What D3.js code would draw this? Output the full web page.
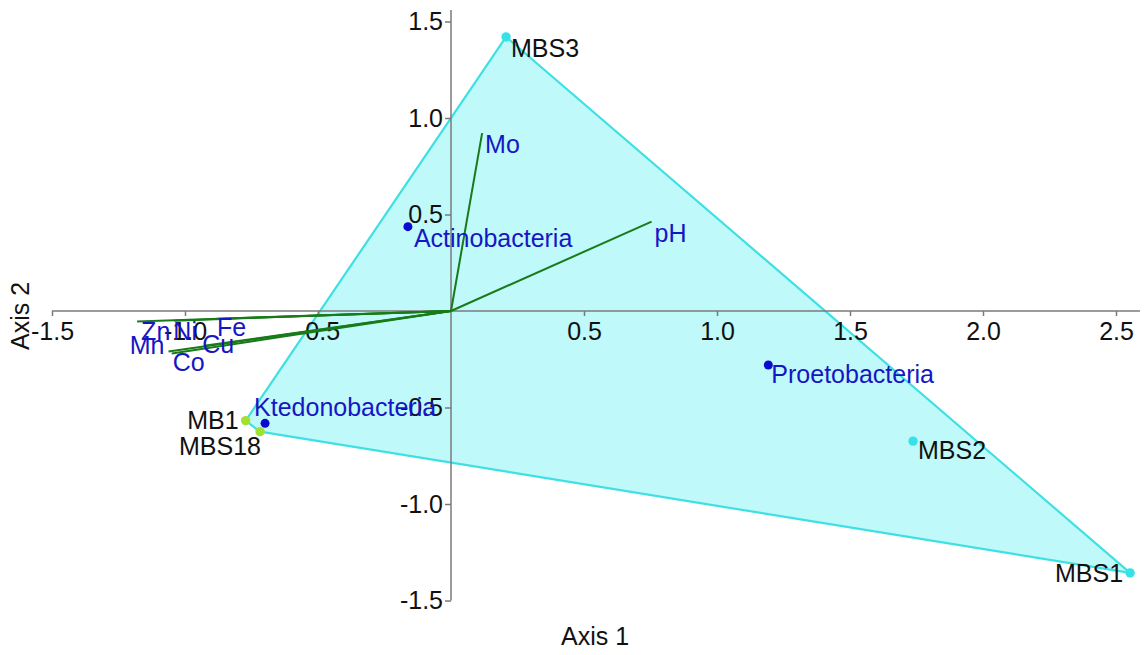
<!DOCTYPE html>
<html>
<head>
<meta charset="utf-8">
<script src="https://cdn.jsdelivr.net/npm/d3@7"></script>
<style>
  html, body { margin: 0; padding: 0; background: #ffffff; }
  svg { display: block; font-family: "Liberation Sans", Arial, sans-serif; }
</style>
</head>
<body>
<svg id="chart" width="1145" height="655"></svg>
<script>
// Sample scores (Axis 1, Axis 2)
const sampleNames = ["MBS3", "MBS2", "MBS1", "MB1", "MBS18"];
const sampleX = [0.207, 1.737, 2.553, -0.772, -0.718];
const sampleY = [1.420, -0.674, -1.357, -0.568, -0.625];
const sampleGroup = ["MBS", "MBS", "MBS", "MB", "MB"];

// Taxa scores
const taxaNames = ["Actinobacteria", "Proetobacteria", "Ktedonobacteria"];
const taxaX = [-0.162, 1.193, -0.699];
const taxaY = [0.437, -0.280, -0.582];

// Environmental vectors (biplot arrows from origin)
const envNames = ["Mo", "pH", "Zn", "Ni", "Fe", "Mn", "Co", "Cu"];
const envX = [0.117, 0.754, -1.180, -1.040, -0.880, -1.062, -1.050, -0.928];
const envY = [0.922, 0.463, -0.055, -0.050, -0.040, -0.210, -0.220, -0.180];

// Axis ticks
const xTicks = [-1.5, -1.0, -0.5, 0.5, 1.0, 1.5, 2.0, 2.5];
const yTicks = [-1.5, -1.0, -0.5, 0.5, 1.0, 1.5];

const svg = d3.select("#chart");
const FONT = 25;

const x = d3.scaleLinear().domain([-1.5, 2.5]).range([52, 1116]);
const y = d3.scaleLinear().domain([-1.5, 1.5]).range([600.5, 21.5]);

const groupColor = { MBS: "#36e2e8", MB: "#a2e22e" };
const hullFill = "#bff9f9";
const hullStroke = "#3fe0e3";
const taxaColor = "#0b0bd0";
const taxaText = "#1616c4";
const envColor = "#197a19";
const axisColor = "#7a7a7a";

// Convex hull around all sample points
const pts = sampleNames.map((_, i) => [x(sampleX[i]), y(sampleY[i])]);
const hull = d3.polygonHull(pts);
svg.append("path")
  .attr("d", "M" + hull.join("L") + "Z")
  .attr("fill", hullFill)
  .attr("stroke", hullStroke)
  .attr("stroke-width", 2.2)
  .attr("stroke-linejoin", "round");

// Axes through the origin
const xAxis = d3.axisBottom(x).tickValues(xTicks).tickFormat(d3.format(".1f"))
  .tickSize(5).tickPadding(6).tickSizeOuter(0);
const yAxis = d3.axisLeft(y).tickValues(yTicks).tickFormat(d3.format(".1f"))
  .tickSize(6).tickPadding(2).tickSizeOuter(0);

const gx = svg.append("g").attr("transform", `translate(0,${y(0)})`).call(xAxis);
const gy = svg.append("g").attr("transform", `translate(${x(0)},0)`).call(yAxis);

// extend axis lines across the plotting area
gx.select(".domain").attr("d", `M${x(-1.5)},0H${x(2.59)}`);
gy.select(".domain").attr("d", `M0,${y(-1.5)}V${y(1.56)}`);

[gx, gy].forEach(g => {
  g.selectAll(".domain, .tick line").attr("stroke", axisColor).attr("stroke-width", 1.5);
  g.selectAll(".tick text").attr("fill", "#111").attr("font-size", FONT)
    .attr("font-family", '"Liberation Sans", Arial, sans-serif')
    .text(d => d3.format(".1f")(d).replace("−", "-"));
});

// Environmental vectors
const envLabelOffset = {
  Mo: [3, 20, "start"], pH: [3, 20, "start"], Zn: [4, 18, "start"],
  Ni: [-1, 19, "start"], Fe: [0, 17, "start"], Mn: [-4, 2, "end"],
  Co: [1, 18, "start"], Cu: [-2, 7, "start"]
};
const gEnv = svg.append("g");
envNames.forEach((n, i) => {
  gEnv.append("line")
    .attr("x1", x(0)).attr("y1", y(0))
    .attr("x2", x(envX[i])).attr("y2", y(envY[i]))
    .attr("stroke", envColor).attr("stroke-width", 2);
});
envNames.forEach((n, i) => {
  const o = envLabelOffset[n];
  gEnv.append("text")
    .attr("x", x(envX[i]) + o[0]).attr("y", y(envY[i]) + o[1])
    .attr("text-anchor", o[2])
    .attr("font-size", FONT).attr("fill", taxaText)
    .text(n);
});

// Taxa points
const taxaLabelOffset = {
  Actinobacteria: [6, 20, "start"],
  Proetobacteria: [3, 18, "start"],
  Ktedonobacteria: [-11, -7, "start"]
};
const gTaxa = svg.append("g");
taxaNames.forEach((n, i) => {
  gTaxa.append("circle")
    .attr("cx", x(taxaX[i])).attr("cy", y(taxaY[i])).attr("r", 4.5)
    .attr("fill", taxaColor);
  const o = taxaLabelOffset[n];
  gTaxa.append("text")
    .attr("x", x(taxaX[i]) + o[0]).attr("y", y(taxaY[i]) + o[1])
    .attr("text-anchor", o[2])
    .attr("font-size", FONT).attr("fill", taxaText)
    .text(n);
});

// Sample points
const sampleLabelOffset = {
  MBS3: [5, 20, "start"], MBS2: [5, 18, "start"], MBS1: [-7, 9, "end"],
  MB1: [-7, 8, "end"], MBS18: [1, 23, "end"]
};
const gS = svg.append("g");
sampleNames.forEach((n, i) => {
  gS.append("circle")
    .attr("cx", x(sampleX[i])).attr("cy", y(sampleY[i])).attr("r", 4.7)
    .attr("fill", groupColor[sampleGroup[i]]);
  const o = sampleLabelOffset[n];
  gS.append("text")
    .attr("x", x(sampleX[i]) + o[0]).attr("y", y(sampleY[i]) + o[1])
    .attr("text-anchor", o[2])
    .attr("font-size", FONT).attr("fill", "#111")
    .text(n);
});

// Axis titles
svg.append("text")
  .attr("x", 595).attr("y", 645)
  .attr("text-anchor", "middle")
  .attr("font-size", FONT).attr("fill", "#111")
  .text("Axis 1");
svg.append("text")
  .attr("transform", "translate(29,316) rotate(-90)")
  .attr("text-anchor", "middle")
  .attr("font-size", FONT).attr("fill", "#111")
  .text("Axis 2");
</script>
</body>
</html>
